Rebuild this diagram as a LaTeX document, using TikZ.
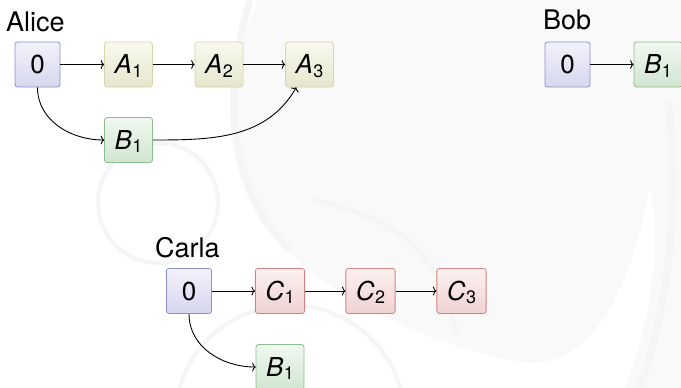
\documentclass[tikz,border=0pt]{standalone}
\usepackage{fontspec}
\setmainfont{TeX Gyre Heros}
\usetikzlibrary{arrows.meta}

% node colours
\definecolor{zeroline}{HTML}{8E8ED2}
\definecolor{zerotop}{HTML}{F2F2FB}
\definecolor{zerobot}{HTML}{D6D6EE}
\definecolor{aline}{HTML}{D6D6AE}
\definecolor{atop}{HTML}{F9F9F0}
\definecolor{abot}{HTML}{E6E6CE}
\definecolor{bline}{HTML}{8CBC8C}
\definecolor{btop}{HTML}{F1F8F1}
\definecolor{bbot}{HTML}{D0E5D0}
\definecolor{cline}{HTML}{D28484}
\definecolor{ctop}{HTML}{FCF0F0}
\definecolor{cbot}{HTML}{F0D2D2}
\definecolor{wmark}{HTML}{F9F9F9}
\definecolor{wmarkdark}{HTML}{F5F5F5}

% subscripted variable name
\newcommand{\vsub}[2]{{\itshape #1}\kern0.5pt\raisebox{-3.5pt}{\fontsize{18}{18}\selectfont #2}}

\tikzset{
  box/.style={rounded corners=2.5pt, minimum width=45pt, minimum height=45pt,
    inner xsep=10pt, text height=18.5pt, text depth=0pt, line width=0.8pt,
    font=\fontsize{26}{30}\selectfont},
  zerobox/.style={box, draw=zeroline, top color=zerotop, bottom color=zerobot},
  abox/.style={box, draw=aline, top color=atop, bottom color=abot},
  bbox/.style={box, draw=bline, top color=btop, bottom color=bbot},
  cbox/.style={box, draw=cline, top color=ctop, bottom color=cbot},
  lbl/.style={anchor=base west, inner sep=0pt, font=\fontsize{27}{30}\selectfont},
  arr/.style={-{To[length=3.5pt,width=9pt]}, line width=0.9pt},
}

\begin{document}
\begin{tikzpicture}[x=1pt,y=1pt]
  \useasboundingbox (0,0) rectangle (681,-388);
  \fill[white] (0,0) rectangle (681,-388);

  % background swirl
  \begin{scope}
    \clip (0,0) rectangle (681,-388);
    \fill[wmark] (258,0) .. controls (222,-90) and (222,-175) .. (272,-235)
      .. controls (330,-300) and (430,-345) .. (520,-362)
      .. controls (585,-372) and (630,-300) .. (650,-185)
      .. controls (662,-260) and (648,-330) .. (625,-388)
      -- (681,-388) -- (681,0) -- cycle;
    \draw[wmarkdark, line width=7pt] (250,0) .. controls (220,-100) and (230,-190) .. (290,-250);
    \draw[wmarkdark, line width=7pt] (668,-100) .. controls (680,-200) and (670,-300) .. (640,-388);
    \draw[wmarkdark, line width=5pt] (313,-200) .. controls (380,-215) and (440,-240) .. (456,-333);
    \draw[wmarkdark, line width=4pt] (158,-203) circle (60);
    \draw[wmarkdark, line width=4pt] (290,-420) circle (115);
  \end{scope}

  % Alice
  \node[lbl] (alice) at (6,-31) {Alice};
  \node[zerobox] (a0) at (37.5,-64.5) {0};
  \node[abox] (a1) at (128.5,-64.5) {\vsub{A}{1}};
  \node[abox] (a2) at (219,-64.5) {\vsub{A}{2}};
  \node[abox] (a3) at (309.5,-64.5) {\vsub{A}{3}};
  \node[bbox] (ab1) at (128.5,-140) {\vsub{B}{1}};
  \draw[arr] (a0) -- (a1);
  \draw[arr] (a1) -- (a2);
  \draw[arr] (a2) -- (a3);
  \draw[arr] (a0) to[out=-90,in=180] (ab1);
  \draw[arr] (ab1) to[out=0,in=-120] (a3);

  % Bob
  \node[lbl] (bob) at (543,-30) {Bob};
  \node[zerobox] (b0) at (567.5,-64.5) {0};
  \node[bbox] (bb1) at (658,-64.5) {\vsub{B}{1}};
  \draw[arr] (b0) -- (bb1);

  % Carla
  \node[lbl] (carla) at (155,-257) {Carla};
  \node[zerobox] (c0) at (189,-291) {0};
  \node[cbox] (c1) at (280,-291) {\vsub{C}{1}};
  \node[cbox] (c2) at (370.5,-291) {\vsub{C}{2}};
  \node[cbox] (c3) at (461.5,-291) {\vsub{C}{3}};
  \node[bbox] (cb1) at (280,-367) {\vsub{B}{1}};
  \draw[arr] (c0) -- (c1);
  \draw[arr] (c1) -- (c2);
  \draw[arr] (c2) -- (c3);
  \draw[arr] (c0) to[out=-90,in=180] (cb1);
\end{tikzpicture}
\end{document}
